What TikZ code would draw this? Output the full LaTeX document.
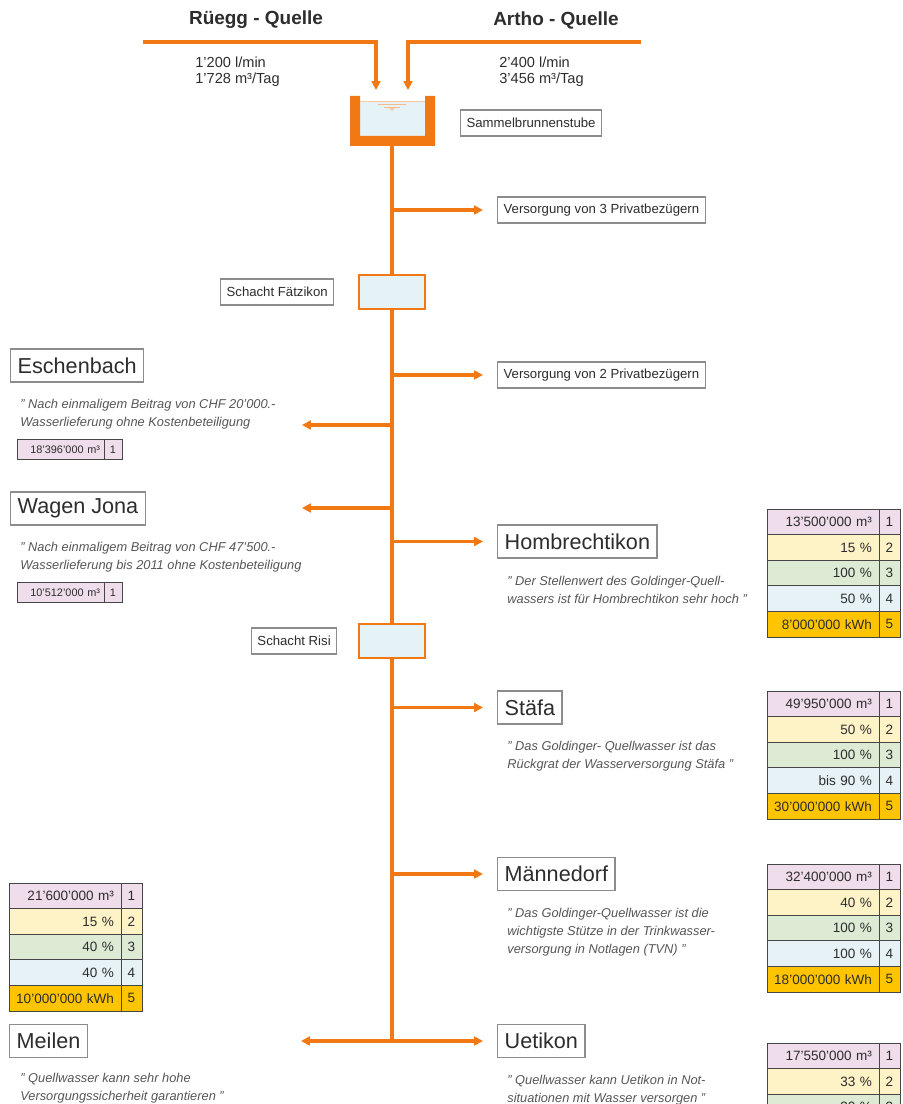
\documentclass[tikz,border=0pt]{standalone}
\usepackage{fontspec}
\setmainfont{Liberation Sans}
\usetikzlibrary{positioning,arrows.meta}

\definecolor{pipe}{RGB}{242,120,20}
\definecolor{wasser}{RGB}{229,242,246}
\definecolor{txt}{RGB}{45,45,45}
\definecolor{notizgrau}{RGB}{85,85,85}
\definecolor{rahmen}{RGB}{140,140,140}
\definecolor{tabline}{RGB}{70,70,70}
\definecolor{row1}{RGB}{239,221,235}
\definecolor{row2}{RGB}{253,243,199}
\definecolor{row3}{RGB}{221,235,213}
\definecolor{row4}{RGB}{230,242,246}
\definecolor{row5}{RGB}{255,196,0}

\tikzset{
  leitung/.style={draw=pipe, line width=1.8pt},
  zufluss/.style={leitung, -{Triangle[length=5pt,width=5pt]}},
  abgang/.style={zufluss, shorten >=0.28cm},
  schacht/.style={draw=pipe, line width=0.8pt, fill=wasser, minimum width=1.32cm, minimum height=0.68cm},
  titel/.style={text=txt, font=\fontsize{10.8}{13}\selectfont\bfseries},
  menge/.style={text=txt, font=\fontsize{8.3}{9.07}\selectfont, align=left, inner sep=0pt},
  etikett/.style={draw=rahmen, line width=0.7pt, fill=white, text=txt, font=\fontsize{7.5}{9}\selectfont, inner xsep=0.12cm, minimum height=0.52cm},
  ortname/.style={draw=rahmen, line width=0.8pt, fill=white, text=txt, font=\fontsize{12.3}{14}\selectfont, inner xsep=0.14cm, minimum height=0.66cm},
  notiz/.style={text=notizgrau, font=\fontsize{7.3}{10.2}\selectfont\itshape, align=left, inner sep=0pt, anchor=north west},
  wertzelle/.style={draw=tabline, line width=0.5pt, outer sep=0pt, inner xsep=0.14cm, inner ysep=0pt, text width=1.96cm, align=right, minimum height=0.512cm, text=txt, font=\fontsize{7.7}{9}\selectfont},
  nrzelle/.style={draw=tabline, line width=0.5pt, outer sep=0pt, inner sep=0pt, minimum width=0.42cm, minimum height=0.512cm, text=txt, font=\fontsize{7.7}{9}\selectfont},
  kleinwert/.style={wertzelle, fill=row1, inner xsep=0.08cm, text width=1.58cm, minimum height=0.4cm, font=\fontsize{6.2}{7}\selectfont},
  kleinnr/.style={nrzelle, fill=row1, minimum width=0.36cm, minimum height=0.4cm, font=\fontsize{6.2}{7}\selectfont}
}

% Kennzahlen-Tabelle: Name, Ecke oben links, Werte
\newcommand{\kennzahlen}[3]{%
  \foreach \wert [count=\i] in {#3}{
    \node[wertzelle, fill=row\i, anchor=north west, yshift={-(\i-1)*0.512cm}] (#1-w\i) at (#2) {\wert};
    \node[nrzelle, fill=row\i, right=0pt of #1-w\i] (#1-n\i) {\i};
  }}

\begin{document}
\begin{tikzpicture}[x=0.02cm, y=-0.02cm]
  \useasboundingbox (0,0) rectangle (902,1104);

  % Quellen
  \node[titel] (ruegg) at (256,20) {Rüegg - Quelle};
  \node[titel] (artho) at (556,20) {Artho - Quelle};
  \node[menge, anchor=west] (rmenge) at (195,72) {1'200 l/min\\1'728 m³/Tag};
  \node[menge, anchor=west] (amenge) at (499,72) {2'400 l/min\\3'456 m³/Tag};
  \coordinate (rq) at (143,42);
  \coordinate (aq) at (641,42);
  \coordinate (rqein) at (376,90);
  \coordinate (aqein) at (408,90);
  \draw[zufluss] (rq) -| (rqein);
  \draw[zufluss] (aq) -| (aqein);

  % Sammelbrunnenstube
  \node[inner sep=0pt, minimum width=1.3cm, minimum height=0.7cm, fill=wasser] (stube) at (392.5,118.5) {};
  \fill[pipe] (350,96) -- (350,146) -- (435,146) -- (435,96) -- (425,96)
    -- (425,136) -- (360,136) -- (360,96) -- cycle;
  \draw[pipe!40, line width=0.4pt] (360,101) -- (425,101);
  \draw[pipe!50, line width=0.5pt] (378,104) -- (406,104) (384,107) -- (400,107);
  \fill[pipe!40] (389,108) -- (395,108) -- (392,111) -- cycle;
  \node[etikett, anchor=west] (stubelabel) at (460,123) {Sammelbrunnenstube};
  \coordinate (stubeaus) at (392,146);

  % Schaechte
  \node[schacht] (faetz) at (392,292) {};
  \node[schacht] (risi) at (392,641) {};
  \node[etikett, left=0.48cm of faetz] (faetzlabel) {Schacht Fätzikon};
  \node[etikett, left=0.42cm of risi] (risilabel) {Schacht Risi};
  \coordinate (ende) at (392,1041);

  \draw[leitung] (stubeaus) -- (faetz.north);
  \draw[leitung] (faetz.south) -- (risi.north);
  \draw[leitung] (risi.south) -- (ende);

  % Privatbezueger
  \node[etikett, anchor=west] (priv3) at (497,210) {Versorgung von 3 Privatbezügern};
  \node[etikett, anchor=west] (priv2) at (497,375) {Versorgung von 2 Privatbezügern};
  \draw[abgang] (priv3.west -| stubeaus) -- (priv3.west);
  \draw[abgang] (priv2.west -| stubeaus) -- (priv2.west);

  % Gemeinden links
  \node[ortname, anchor=west] (esch) at (10,365.5) {Eschenbach};
  \node[notiz] (eschnotiz) at ([xshift=0.2cm, yshift=-0.32cm]esch.south west)
    {" Nach einmaligem Beitrag von CHF 20'000.-\\Wasserlieferung ohne Kostenbeteiligung};
  \node[kleinwert, anchor=north west] (esch-w) at ([xshift=0.14cm, yshift=-1.14cm]esch.south west) {18'396'000 m³};
  \node[kleinnr, right=0pt of esch-w] (esch-n) {1};
  \coordinate (eschpfeil) at (302,425);
  \draw[zufluss] (eschpfeil -| stubeaus) -- (eschpfeil);

  \node[ortname, anchor=west] (jona) at (10,508.5) {Wagen Jona};
  \node[notiz] (jonanotiz) at ([xshift=0.2cm, yshift=-0.32cm]jona.south west)
    {" Nach einmaligem Beitrag von CHF 47'500.-\\Wasserlieferung bis 2011 ohne Kostenbeteiligung};
  \node[kleinwert, anchor=north west] (jona-w) at ([xshift=0.14cm, yshift=-1.14cm]jona.south west) {10'512'000 m³};
  \node[kleinnr, right=0pt of jona-w] (jona-n) {1};
  \coordinate (jonapfeil) at (302,508);
  \draw[zufluss] (jonapfeil -| stubeaus) -- (jonapfeil);

  \kennzahlen{meil}{9,883}{21'600'000 m³, 15 \%, 40 \%, 40 \%, 10'000'000 kWh}
  \node[ortname, anchor=west] (meil) at (9,1041) {Meilen};
  \node[notiz] (meilnotiz) at ([xshift=0.22cm, yshift=-0.3cm]meil.south west)
    {" Quellwasser kann sehr hohe\\Versorgungssicherheit garantieren "};
  \coordinate (meilpfeil) at (301,1041);
  \draw[zufluss] (ende) -- (meilpfeil);

  % Gemeinden rechts
  \node[ortname, anchor=west] (homb) at (497,541.5) {Hombrechtikon};
  \node[notiz] (hombnotiz) at ([xshift=0.2cm, yshift=-0.34cm]homb.south west)
    {" Der Stellenwert des Goldinger-Quell-\\wassers ist für Hombrechtikon sehr hoch "};
  \draw[abgang] (homb.west -| stubeaus) -- (homb.west);
  \kennzahlen{hombtab}{767,509}{13'500'000 m³, 15 \%, 100 \%, 50 \%, 8'000'000 kWh}

  \node[ortname, anchor=west] (staefa) at (497,707.5) {Stäfa};
  \node[notiz] (staefanotiz) at ([xshift=0.2cm, yshift=-0.32cm]staefa.south west)
    {" Das Goldinger- Quellwasser ist das\\Rückgrat der Wasserversorgung Stäfa "};
  \draw[abgang] (staefa.west -| stubeaus) -- (staefa.west);
  \kennzahlen{staefatab}{767,691}{49'950'000 m³, 50 \%, 100 \%, bis 90 \%, 30'000'000 kWh}

  \node[ortname, anchor=west] (maenn) at (497,874) {Männedorf};
  \node[notiz] (maennnotiz) at ([xshift=0.2cm, yshift=-0.34cm]maenn.south west)
    {" Das Goldinger-Quellwasser ist die\\wichtigste Stütze in der Trinkwasser-\\versorgung in Notlagen (TVN) "};
  \draw[abgang] (maenn.west -| stubeaus) -- (maenn.west);
  \kennzahlen{maenntab}{767,864}{32'400'000 m³, 40 \%, 100 \%, 100 \%, 18'000'000 kWh}

  \node[ortname, anchor=west] (uet) at (497,1041) {Uetikon};
  \node[notiz] (uetnotiz) at ([xshift=0.2cm, yshift=-0.34cm]uet.south west)
    {" Quellwasser kann Uetikon in Not-\\situationen mit Wasser versorgen "};
  \draw[abgang] (ende) -- (uet.west);
  \kennzahlen{uettab}{767,1043}{17'550'000 m³, 33 \%, 30 \%}
\end{tikzpicture}
\end{document}
